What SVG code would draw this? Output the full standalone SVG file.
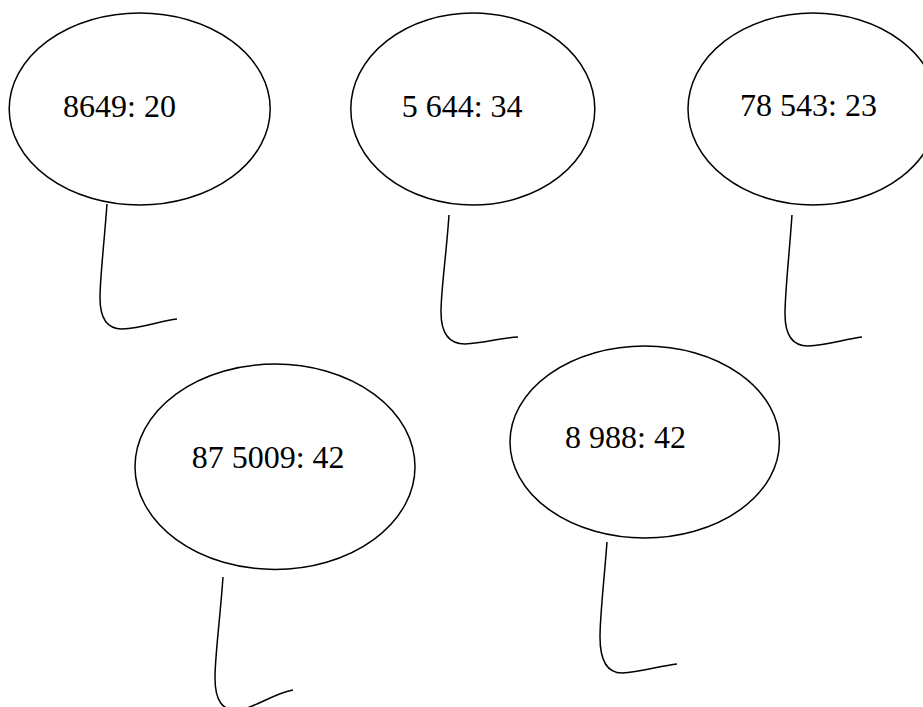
<svg xmlns="http://www.w3.org/2000/svg" width="923" height="707" viewBox="0 0 923 707">
<style>
.n{fill:#fff;stroke:#000;stroke-width:1.5}
.c{fill:none;stroke:#000;stroke-width:1.5}
text{font-family:"Liberation Serif","Times New Roman",serif;font-size:32px;fill:#000}
</style>
<rect width="923" height="707" fill="#fff"/>
<g id="node1"><ellipse class="n" cx="139.7" cy="109" rx="130.5" ry="96"/><text x="63" y="116.7">8649: 20</text></g>
<g id="node2"><ellipse class="n" cx="472.8" cy="109" rx="122" ry="96"/><text x="401.7" y="116.7">5 644: 34</text></g>
<g id="node3"><ellipse class="n" cx="813" cy="109" rx="125" ry="96"/><text x="740" y="115.5">78 543: 23</text></g>
<g id="node4"><ellipse class="n" cx="275" cy="466.7" rx="140" ry="102.7"/><text x="191.7" y="468.3">87 5009: 42</text></g>
<g id="node5"><ellipse class="n" cx="644.7" cy="442" rx="134.7" ry="96"/><text x="565" y="448.3">8 988: 42</text></g>
<g id="connectors">
<path class="c" d="M107,204 C104,245 100,278 100,298 C100,318 107,329 122,329 C142,328 160,321 177,319"/>
<path class="c" d="M449,215 C446,258 441,290 441,312 C441,332 448,344 465,344 C485,343 500,338 518,337"/>
<path class="c" d="M792,215 C789,258 785,292 785,314 C785,334 792,346 808,346 C828,345 845,339 862,337"/>
<path class="c" d="M223,577 C220,620 215,655 215,678 C215,700 222,712 240,710 C258,706 275,693 293,690"/>
<path class="c" d="M607,542 C604,582 600,615 600,637 C600,658 606,673 622,673 C640,672 660,666 677,664"/>
</g>
</svg>
